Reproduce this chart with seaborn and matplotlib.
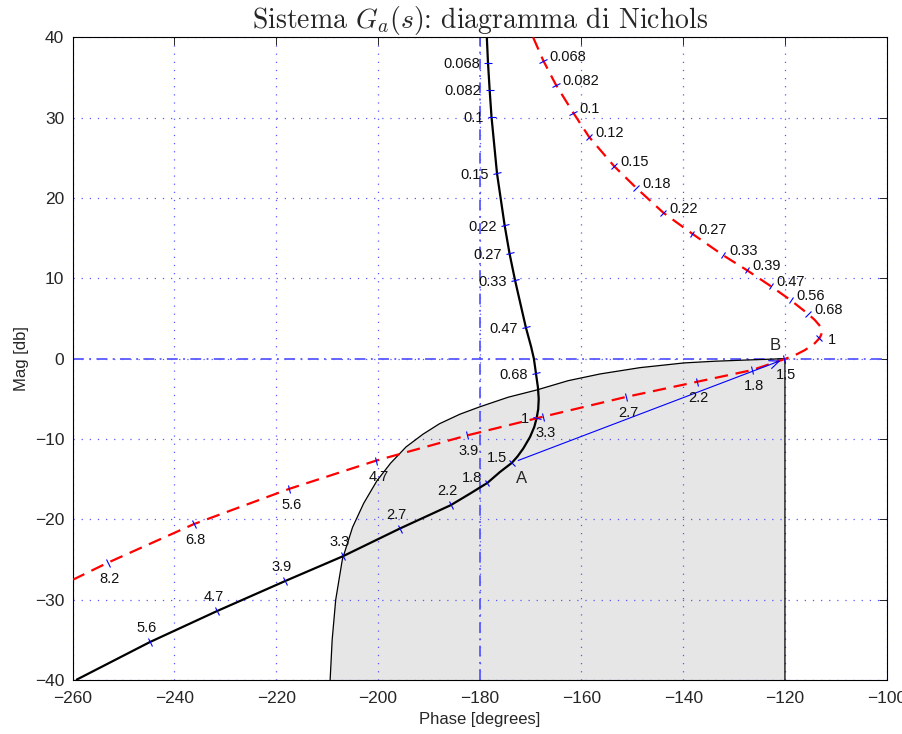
import numpy as np
import pandas as pd
import matplotlib
matplotlib.use("Agg")
import matplotlib.pyplot as plt
from matplotlib.markers import MarkerStyle
from matplotlib.transforms import Affine2D
import seaborn as sns

# Nichols locus of G_a (solid black): phase [deg], magnitude [dB], frequency tag ('' = shape vertex)
black_phase = [-178.6, -178.37, -178.05, -177.68, -176.6, -175.1, -174.14, -173.06, -170.94, -169.9,
               -169.35, -168.95, -168.55, -168.4, -168.5, -168.8, -169.27, -170.1, -171.43, -172.6,
               -173.7, -176.0, -178.5, -181.9, -185.7, -195.7, -206.9, -218.3, -231.7, -244.9,
               -259.2]
black_mag = [40.0, 36.84, 33.5, 30.1, 23.06, 16.6, 13.1, 9.78, 3.92, 1.5,
             0.0, -1.8, -3.6, -5.0, -6.3, -7.37, -8.5, -9.74, -11.18, -12.2,
             -12.98, -14.1, -15.47, -16.8, -18.24, -21.15, -24.6, -27.7, -31.44, -35.3,
             -39.95]
black_freq = ['', '0.068', '0.082', '0.1', '0.15', '0.22', '0.27', '0.33', '0.47', '',
              '', '0.68', '', '', '', '1', '', '', '', '',
              '1.5', '', '1.8', '', '2.2', '2.7', '3.3', '3.9', '4.7', '5.6',
              '']

# compensated locus (dashed red)
red_phase = [-169.5, -167.5, -165.0, -161.6, -158.5, -153.6, -149.3, -143.9, -138.2, -132.2,
             -127.5, -122.8, -118.9, -115.4, -114.1, -113.1, -112.7, -112.9, -113.25, -114.3,
             -116.1, -118.0, -120.1, -126.5, -137.35, -151.2, -167.5, -182.5, -200.3, -217.4,
             -236.2, -253.1, -259.9]
red_mag = [40.0, 37.1, 34.06, 30.6, 27.6, 23.97, 21.3, 18.16, 15.54, 12.89,
           11.02, 9.03, 7.29, 5.54, 4.79, 4.05, 3.43, 2.93, 2.52, 1.81,
           1.06, 0.44, -0.06, -1.43, -2.89, -4.76, -7.22, -9.56, -12.68, -16.2,
           -20.6, -25.4, -27.5]
red_freq = ['', '0.068', '0.082', '0.1', '0.12', '0.15', '0.18', '0.22', '0.27', '0.33',
            '0.39', '0.47', '0.56', '0.68', '', '', '', '', '1', '',
            '', '', '1.5', '1.8', '2.2', '2.7', '3.3', '3.9', '4.7', '5.6',
            '6.8', '8.2', '']

# boundary of the admissible (shaded) region
region_phase = [-209.4, -209.0, -208.3, -207.0, -205.0, -202.8, -200.2, -197.5, -194.5,
                -191.14, -187.9, -183.87, -180.0, -174.4, -168.8, -162.6, -156.3, -148.5,
                -139.8, -133.75, -126.7, -120.0]
region_mag = [-40.0, -35.0, -30.0, -25.0, -21.0, -18.0, -15.2, -13.0, -11.0,
              -9.4, -8.1, -6.91, -6.0, -4.8, -3.9, -2.74, -1.9, -1.12,
              -0.53, -0.32, -0.15, 0.0]

x_ticks = list(range(-260, -99, 20))
y_ticks = list(range(-40, 41, 10))

# label placement (pixel offset, alignment) per frequency tag
black_place = {f: (-8, -1.5, 'right') for f in
               ['0.068', '0.082', '0.1', '0.15', '0.22', '0.27', '0.33', '0.47', '0.68', '1']}
black_place.update({'1.5': (-5, 5, 'right'), '1.8': (-5, 5, 'right')})
black_place.update({f: (-3, 14, 'center') for f in ['2.2', '2.7', '3.3', '3.9', '4.7', '5.6']})
red_place = {f: (6, 4, 'left') for f in
             ['0.068', '0.082', '0.1', '0.12', '0.15', '0.18', '0.22', '0.27', '0.33',
              '0.39', '0.47', '0.56', '0.68']}
red_place.update({'1': (9, -2, 'left')})
red_place.update({f: (2, -16, 'center') for f in
                  ['1.5', '1.8', '2.2', '2.7', '3.3', '3.9', '4.7', '5.6', '6.8', '8.2']})

sns.set_style("white")
plt.rcParams['font.family'] = ['Liberation Sans', 'DejaVu Sans']
plt.rcParams['mathtext.fontset'] = 'cm'

fig = plt.figure(figsize=(9.03, 7.34), dpi=100)
ax = fig.add_axes([72.7 / 903, 54 / 734, 814 / 903, 642.7 / 734])
ax.set_xlim(-260, -100)
ax.set_ylim(-40, 40)

# shaded region and its outline
outline_phase = region_phase + [-120.0]
outline_mag = region_mag + [-40.0]
ax.fill(outline_phase, outline_mag, facecolor='#e6e6e6', edgecolor='none', zorder=1)
ax.plot(outline_phase, outline_mag, color='black', lw=0.9, zorder=1.7)

# grid and reference axes
ax.set_axisbelow('line')
ax.grid(True, color=(0.35, 0.35, 1.0), linestyle=(0, (1, 5.5)), lw=0.9)
ax.axvline(-180, color=(0.35, 0.35, 1.0), lw=1.3, ls=(0, (6, 3, 1, 3)), zorder=1.6)
ax.axhline(0, color=(0.35, 0.35, 1.0), lw=1.3, ls=(0, (6, 3, 1, 3)), zorder=1.6)

df_black = pd.DataFrame({'phase': black_phase, 'mag': black_mag})
df_red = pd.DataFrame({'phase': red_phase, 'mag': red_mag})
sns.lineplot(data=df_black, x='phase', y='mag', sort=False, estimator=None,
             color='black', lw=1.6, ax=ax, zorder=3)
sns.lineplot(data=df_red, x='phase', y='mag', sort=False, estimator=None,
             color='red', lw=1.6, linestyle=(0, (6, 3.5)), ax=ax, zorder=3)


def tag_curve(phase, mag, freq, place):
    pts = ax.transData.transform(np.column_stack([phase, mag]))
    for i, f in enumerate(freq):
        if not f:
            continue
        d = pts[min(i + 1, len(pts) - 1)] - pts[max(i - 1, 0)]
        ang = np.degrees(np.arctan2(d[1], d[0]))
        mk = MarkerStyle('|', transform=Affine2D().rotate_deg(ang))
        ax.plot(phase[i], mag[i], marker=mk, ms=6, mew=0.8, color='blue', zorder=4)
        dx, dy, ha = place[f]
        ax.annotate(f, (phase[i], mag[i]), xytext=(dx, dy), textcoords='offset pixels',
                    ha=ha, va='center', fontsize=10.5, color='#111111', zorder=5)


tag_curve(black_phase, black_mag, black_freq, black_place)
tag_curve(red_phase, red_mag, red_freq, red_place)

# A -> B
ia = black_freq.index('1.5')
ib = red_freq.index('1.5')
ax.annotate('', xy=(red_phase[ib], red_mag[ib]), xytext=(black_phase[ia], black_mag[ia]),
            arrowprops=dict(arrowstyle='->,head_length=0.7,head_width=0.3', color='blue',
                            lw=0.8, shrinkA=5, shrinkB=3), zorder=4)
ax.annotate('A', (black_phase[ia], black_mag[ia]), xytext=(10, -16), textcoords='offset pixels',
            ha='center', va='center', fontsize=12, zorder=5)
ax.annotate('B', (red_phase[ib], red_mag[ib]), xytext=(-9.5, 14), textcoords='offset pixels',
            ha='center', va='center', fontsize=12, zorder=5)

ax.set_xticks(x_ticks)
ax.set_yticks(y_ticks)
ax.tick_params(direction='in', length=5.5, width=0.7, top=True, right=True,
               labelsize=12.5, pad=6)
ax.tick_params(axis='x', pad=8)
for s in ax.spines.values():
    s.set_color('black')
    s.set_linewidth(0.8)
ax.set_xlabel('Phase [degrees]', fontsize=12, labelpad=4)
ax.set_ylabel('Mag [db]', fontsize=12, labelpad=4)
ax.set_title(r'Sistema $G_a(s)$: diagramma di Nichols', fontfamily='cmr10', fontsize=20, pad=7)

fig.savefig('out.png', dpi=100)
